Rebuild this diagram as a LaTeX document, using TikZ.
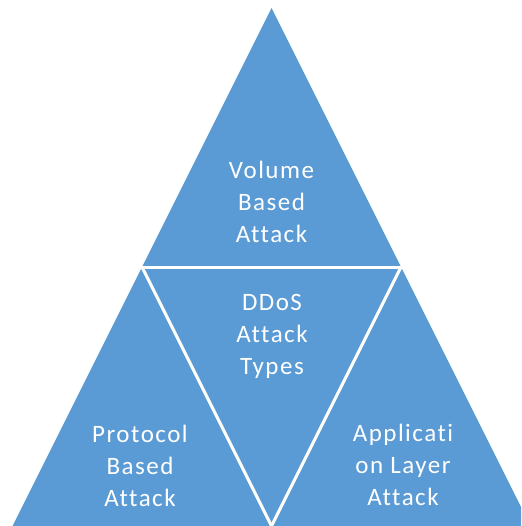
\documentclass[tikz,border=0pt]{standalone}
\usepackage{fontspec}
\setmainfont{Carlito}[Ligatures=NoCommon,LetterSpace=6]
\definecolor{tribl}{HTML}{5B9BD5}
\begin{document}
\begin{tikzpicture}[x=1pt,y=-1pt,
  lbl/.style={text=white,align=center,inner sep=0pt,
    font=\fontsize{25}{32}\selectfont},
  sep/.style={draw=white,line width=3pt}]
\useasboundingbox (0,0) rectangle (521,526);
\clip (0,0) rectangle (521,526);
\coordinate (A) at (271.5,8);
\coordinate (L) at (12.5,526);
\coordinate (R) at (530.5,526);
\coordinate (ML) at (142,267);
\coordinate (MR) at (401,267);
\coordinate (MB) at (271.5,526);
\fill[tribl] (A) -- (L) -- (R) -- cycle;
\draw[sep] (ML) -- (MR);
\draw[sep] (ML) -- (MB);
\draw[sep] (MR) -- (MB);
\node[lbl] (vol) at (271.5,202) {Volume\\Based\\Attack};
\node[lbl] (ddos) at (272,336.5) {DDoS\\Attack\\Types};
\node[lbl] (prot) at (140,465.5) {Protocol\\Based\\Attack};
\node[lbl] (app) at (403,465) {Applicati\\on Layer\\Attack};
\end{tikzpicture}
\end{document}
